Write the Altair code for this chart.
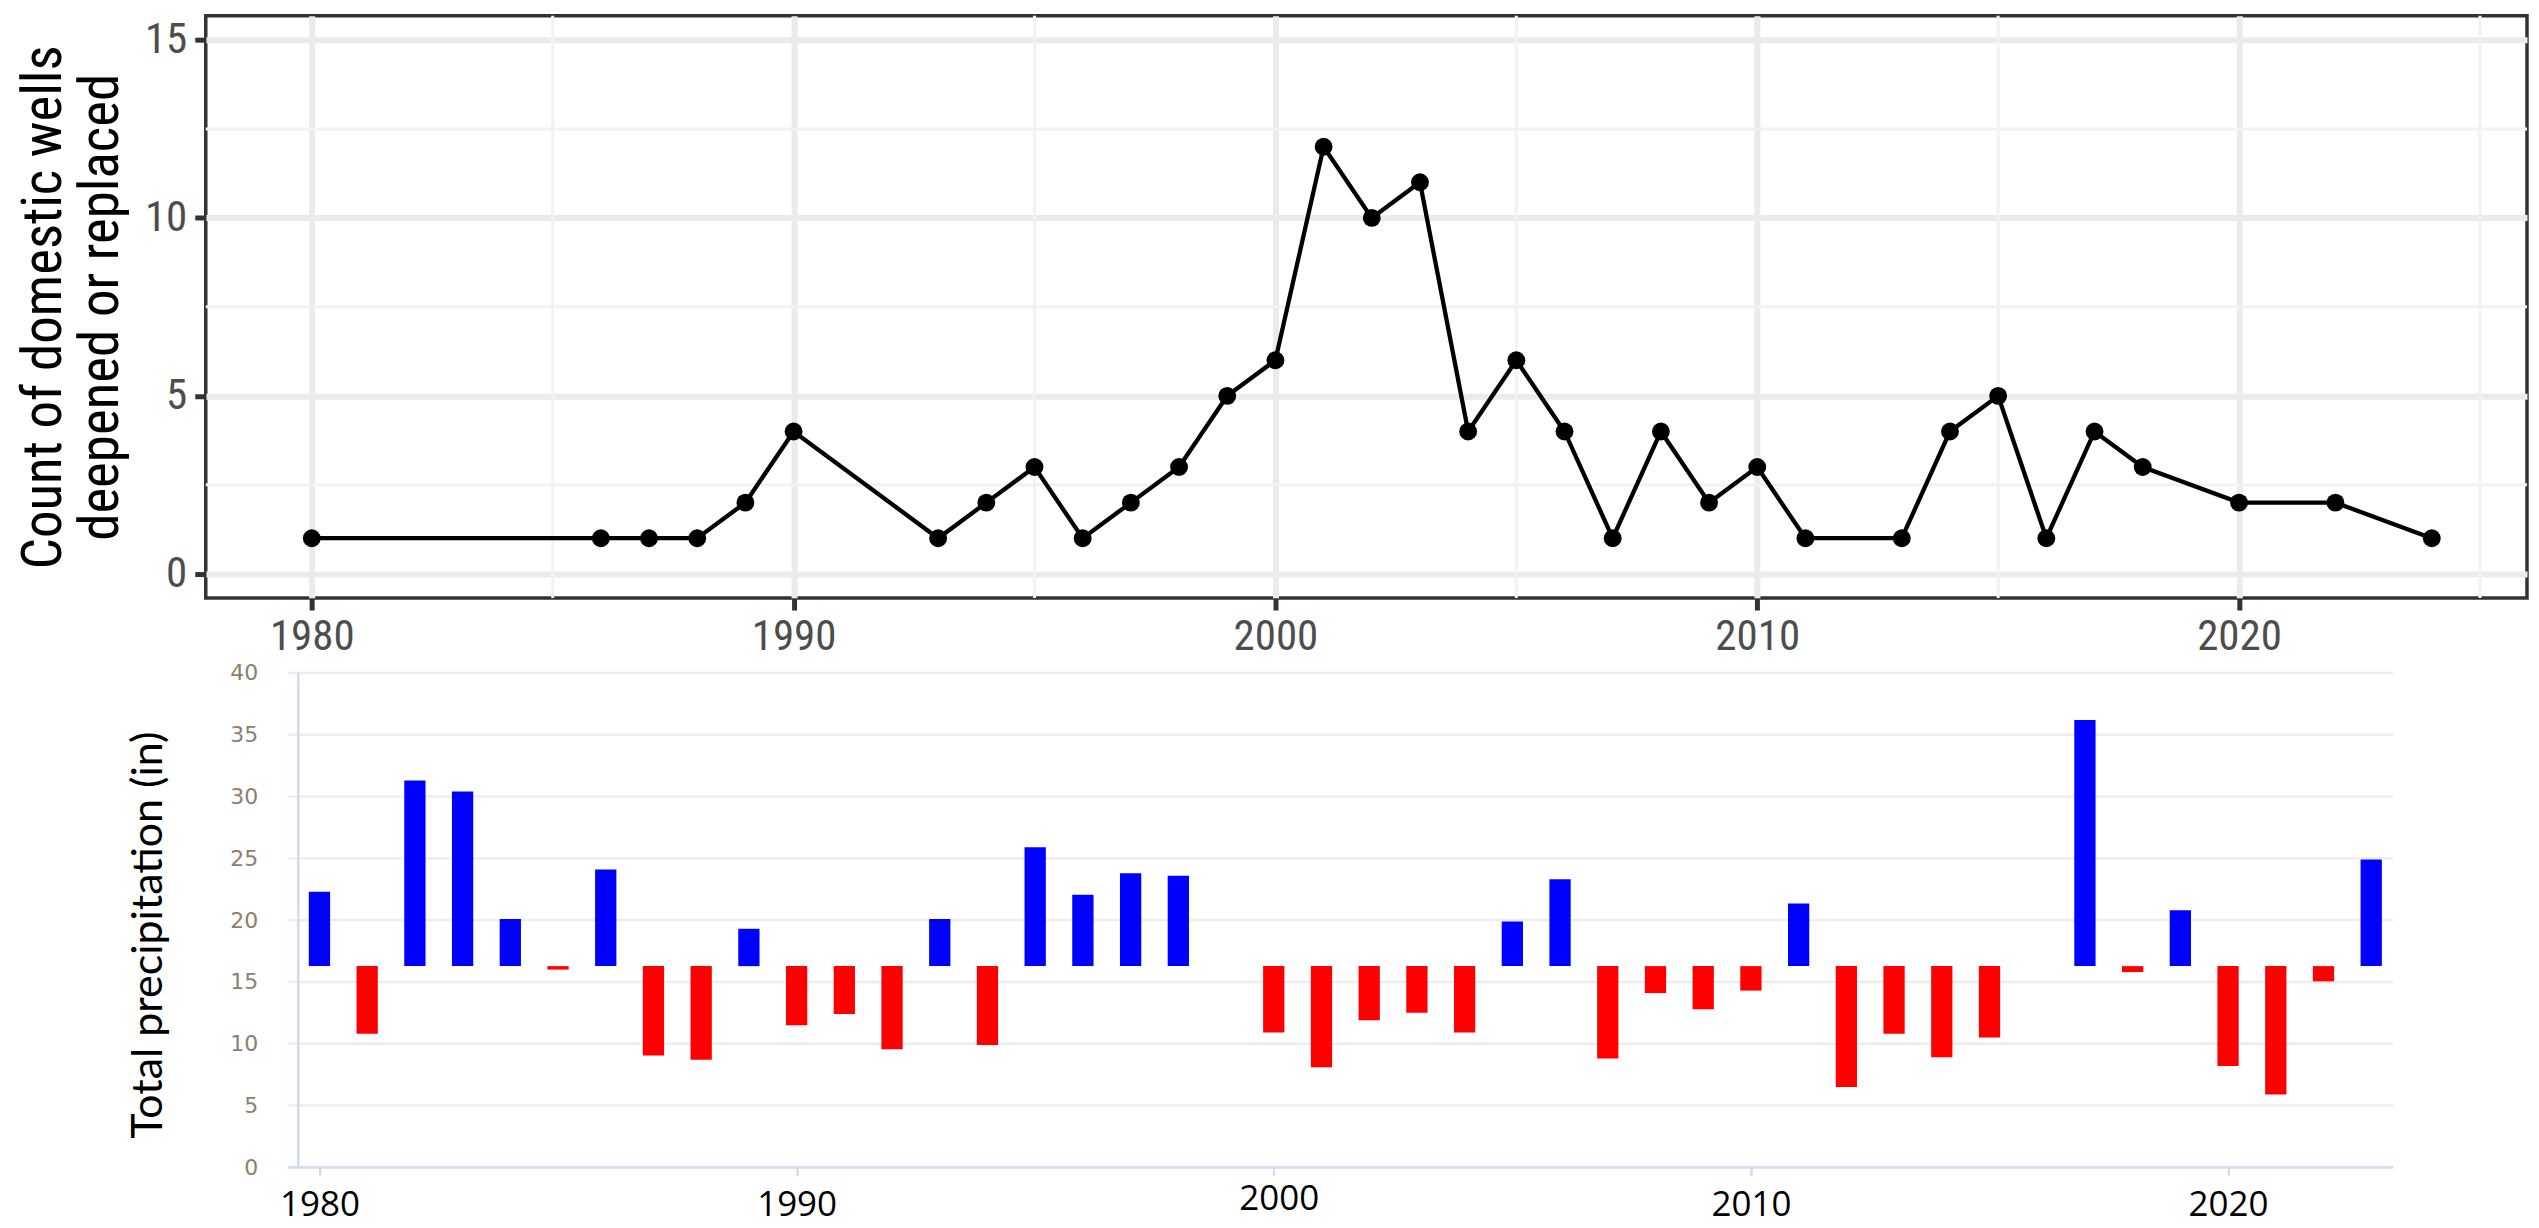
import altair as alt
import pandas as pd

# ---------------- data ----------------
well_years = [1980, 1986, 1987, 1988, 1989, 1990, 1993, 1994, 1995, 1996, 1997, 1998,
              1999, 2000, 2001, 2002, 2003, 2004, 2005, 2006, 2007, 2008, 2009, 2010,
              2011, 2013, 2014, 2015, 2016, 2017, 2018, 2020, 2022, 2024]
well_counts = [1, 1, 1, 1, 2, 4, 1, 2, 3, 1, 2, 3,
               5, 6, 12, 10, 11, 4, 6, 4, 1, 4, 2, 3,
               1, 1, 4, 5, 1, 4, 3, 2, 2, 1]

precip_years = [1980, 1981, 1982, 1983, 1984, 1985, 1986, 1987, 1988, 1989,
                1990, 1991, 1992, 1993, 1994, 1995, 1996, 1997, 1998,
                2000, 2001, 2002, 2003, 2004, 2005, 2006, 2007, 2008, 2009,
                2010, 2011, 2012, 2013, 2014, 2015,
                2017, 2018, 2019, 2020, 2021, 2022, 2023]
precip_values = [22.3, 10.8, 31.3, 30.4, 20.1, 16.0, 24.1, 9.05, 8.7, 19.3,
                 11.5, 12.4, 9.55, 20.1, 9.9, 25.9, 22.05, 23.8, 23.6,
                 10.9, 8.1, 11.9, 12.5, 10.9, 19.9, 23.3, 8.8, 14.1, 12.8,
                 14.3, 21.35, 6.5, 10.8, 8.9, 10.5,
                 36.2, 15.8, 20.8, 8.2, 5.9, 15.05, 24.9]
precip_mean = 16.28

decade_ticks = [1980, 1990, 2000, 2010, 2020]
minor_x = [1985, 1995, 2005, 2015, 2025]
count_ticks = [0, 5, 10, 15]
minor_y = [2.5, 7.5, 12.5]
precip_ticks = [0, 5, 10, 15, 20, 25, 30, 35, 40]

wells = pd.DataFrame({"year": well_years, "count": well_counts})
precip = pd.DataFrame({"year": precip_years, "precip": precip_values})
precip["base"] = precip_mean
precip["wet"] = precip["precip"] > precip_mean

NARROW = "Liberation Sans Narrow, Roboto Condensed, DejaVu Sans Condensed, Arial Narrow, sans-serif"

# ---------------- top panel ----------------
xs_top = alt.Scale(domain=[1977.8, 2025.976], nice=False, zero=False)
ys_top = alt.Scale(domain=[-0.68, 15.68], nice=False, zero=False)

x_axis_top = alt.Axis(values=decade_ticks, format="d", title=None, domain=False,
                      grid=True, gridColor="#EBEBEB", gridWidth=6,
                      ticks=True, tickColor="#333333", tickWidth=5, tickSize=12,
                      labelFont=NARROW, labelFontSize=43, labelColor="#4D4D4D",
                      labelPadding=6)
y_axis_top = alt.Axis(values=count_ticks, format="d",
                      title=["Count of domestic wells", "deepened or replaced"],
                      titleFont=NARROW, titleFontSize=55, titleFontWeight="normal",
                      titleColor="#000000", titleLineHeight=57, titlePadding=15,
                      domain=False, grid=True, gridColor="#EBEBEB", gridWidth=6,
                      ticks=True, tickColor="#333333", tickWidth=5, tickSize=11,
                      labelFont=NARROW, labelFontSize=43, labelColor="#4D4D4D",
                      labelPadding=8)

minor_v = alt.Chart(pd.DataFrame({"year": minor_x})).mark_rule(
    color="#F2F2F2", strokeWidth=3).encode(
    x=alt.X("year:Q", scale=xs_top, axis=x_axis_top))
minor_h = alt.Chart(pd.DataFrame({"count": minor_y})).mark_rule(
    color="#F2F2F2", strokeWidth=3).encode(
    y=alt.Y("count:Q", scale=ys_top, axis=y_axis_top))

line = alt.Chart(wells).mark_line(color="#000000", strokeWidth=4.3).encode(
    x=alt.X("year:Q", scale=xs_top, axis=x_axis_top),
    y=alt.Y("count:Q", scale=ys_top, axis=y_axis_top))
pts = alt.Chart(wells).mark_circle(color="#000000", opacity=1, size=320).encode(
    x=alt.X("year:Q", scale=xs_top, axis=x_axis_top),
    y=alt.Y("count:Q", scale=ys_top, axis=y_axis_top))

top = alt.layer(minor_v, minor_h, line, pts).properties(
    width=2324, height=583,
    view=alt.ViewBackground(stroke="#333333", strokeWidth=3.5))

# ---------------- bottom panel ----------------
x_lo, x_hi = 1977.722, 2023.46
grid_lo = 1979.348
axis_x = 1979.557
xs_bot = alt.Scale(domain=[x_lo, x_hi], nice=False, zero=False)
ys_bot = alt.Scale(domain=[0, 40], nice=False, zero=False)

x_axis_bot = alt.Axis(values=decade_ticks, format="d", title=None, domain=False,
                      grid=False, ticks=True, tickColor="#D5DBEE", tickWidth=2.5,
                      tickSize=8, labelFont="Open Sans, Lato, sans-serif",
                      labelFontSize=35, labelColor="#000000",
                      labelPadding={"condition": {"test": "datum.value === 2000", "value": 6},
                                    "value": 12},
                      labelOffset={"condition": {"test": "datum.value === 2000", "value": 5},
                                   "value": 0})
y_axis_bot = alt.Axis(values=precip_ticks, format="d", title="Total precipitation (in)",
                      titleFont="Lato, Open Sans, sans-serif", titleFontSize=43,
                      titleFontWeight="normal", titleColor="#000000",
                      titleX=-35, titleY=262,
                      domain=False, grid=False, ticks=False,
                      labelFont="DejaVu Sans, sans-serif", labelFontSize=22,
                      labelColor="#8C7F72", labelPadding=-52)

grid_df = pd.DataFrame({"y": precip_ticks[1:]})
grid_df["x0"] = grid_lo
grid_df["x1"] = x_hi
grid_rules = alt.Chart(grid_df).mark_rule(color="#ECECF1", strokeWidth=2.4).encode(
    x=alt.X("x0:Q", scale=xs_bot, axis=x_axis_bot), x2="x1:Q",
    y=alt.Y("y:Q", scale=ys_bot, axis=y_axis_bot))

base_df = pd.DataFrame({"y": [0], "x0": [grid_lo], "x1": [x_hi]})
base_rule = alt.Chart(base_df).mark_rule(color="#D5DBEE", strokeWidth=2.6).encode(
    x=alt.X("x0:Q", scale=xs_bot, axis=x_axis_bot), x2="x1:Q",
    y=alt.Y("y:Q", scale=ys_bot, axis=y_axis_bot))

vaxis_df = pd.DataFrame({"x": [axis_x], "y0": [0], "y1": [40]})
vaxis_rule = alt.Chart(vaxis_df).mark_rule(color="#D5DBEE", strokeWidth=2.6).encode(
    x=alt.X("x:Q", scale=xs_bot, axis=x_axis_bot),
    y=alt.Y("y0:Q", scale=ys_bot, axis=y_axis_bot), y2="y1:Q")

bars = alt.Chart(precip).mark_bar(size=21.3).encode(
    x=alt.X("year:Q", scale=xs_bot, axis=x_axis_bot),
    y=alt.Y("precip:Q", scale=ys_bot, axis=y_axis_bot),
    y2="base:Q",
    color=alt.Color("wet:N", scale=alt.Scale(domain=[True, False],
                                             range=["#0000FF", "#FF0000"]),
                    legend=None))

bottom = alt.layer(grid_rules, base_rule, vaxis_rule, bars).properties(
    width=2195, height=495,
    view=alt.ViewBackground(stroke="transparent"))

chart = alt.vconcat(top, bottom, spacing=0).properties(
    padding={"left": 6, "top": 3, "right": 0, "bottom": 5},
    background="#FFFFFF")

chart.save("out.html", embed_options={"renderer": "svg", "actions": False})
